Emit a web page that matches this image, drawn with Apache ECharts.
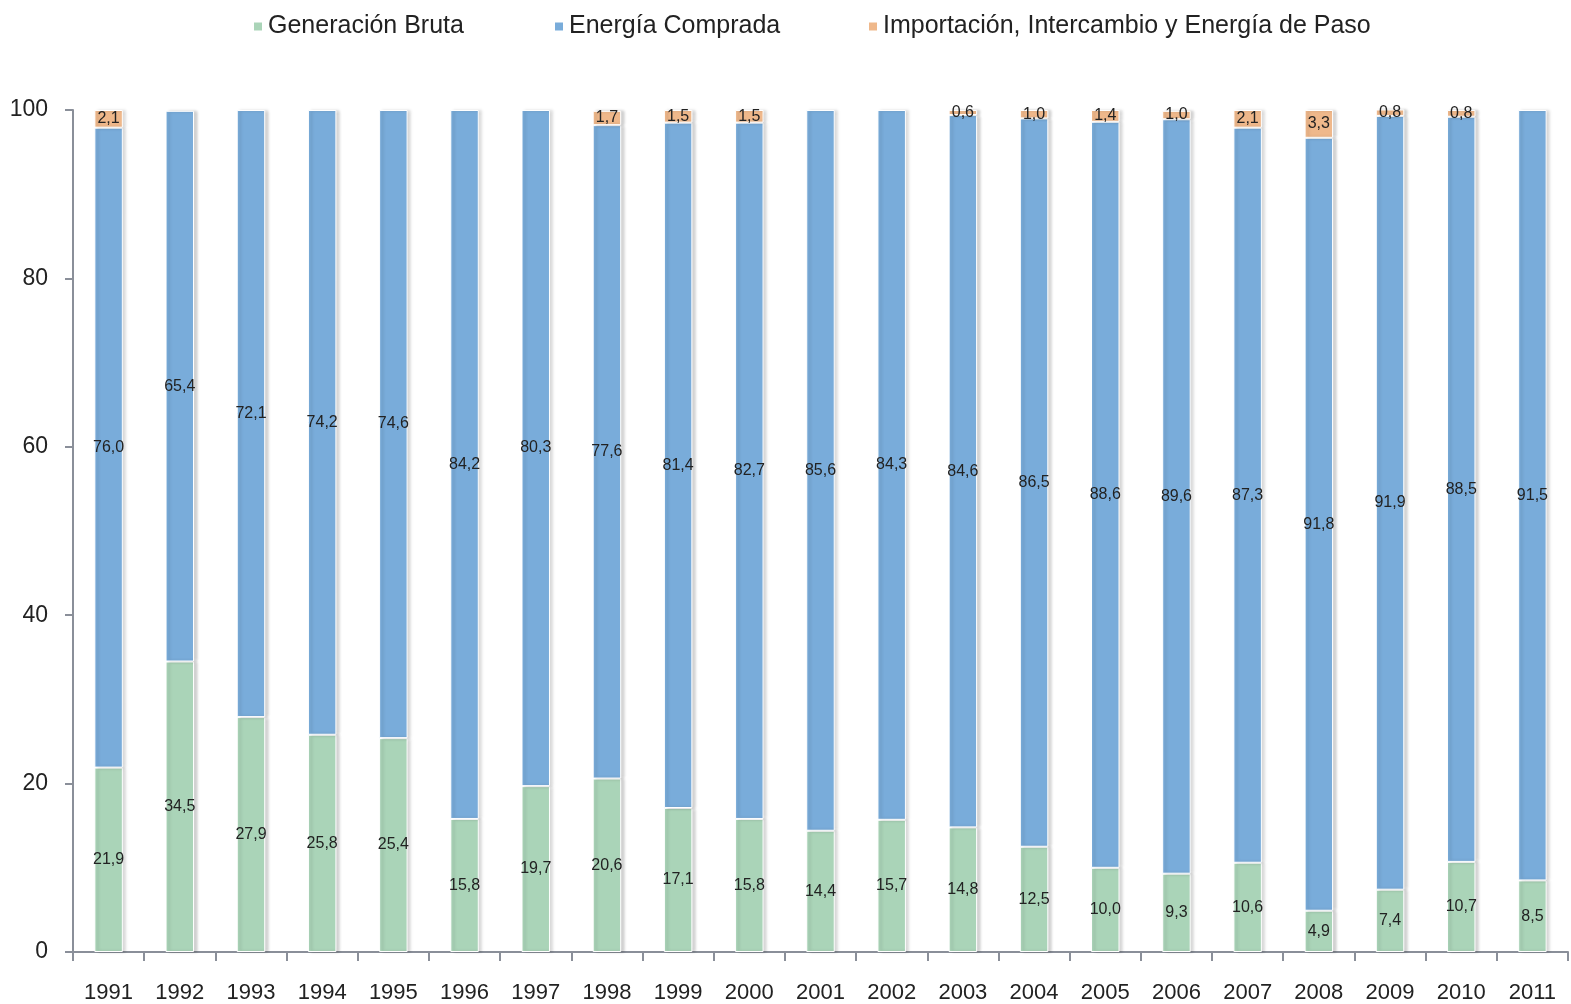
<!DOCTYPE html>
<html><head><meta charset="utf-8">
<script src="https://cdn.jsdelivr.net/npm/echarts@6/dist/echarts.min.js"></script>
<style>html,body{margin:0;padding:0;background:#fff}#c{width:1571px;height:1004px}</style>
</head><body><div id="c"></div>
<script>
const years = ['1991','1992','1993','1994','1995','1996','1997','1998','1999','2000','2001','2002','2003','2004','2005','2006','2007','2008','2009','2010','2011'];
const generacion = [21.9,34.5,27.9,25.8,25.4,15.8,19.7,20.6,17.1,15.8,14.4,15.7,14.8,12.5,10.0,9.3,10.6,4.9,7.4,10.7,8.5];
const comprada = [76.0,65.4,72.1,74.2,74.6,84.2,80.3,77.6,81.4,82.7,85.6,84.3,84.6,86.5,88.6,89.6,87.3,91.8,91.9,88.5,91.5];
const importacion = [2.1,null,null,null,null,null,null,1.7,1.5,1.5,null,null,0.6,1.0,1.4,1.0,2.1,3.3,0.8,0.8,null];
const seriesNames = ['Generación Bruta','Energía Comprada','Importación, Intercambio y Energía de Paso'];
const yTicks = [0,20,40,60,80,100];

const fmt = p => (p.value == null ? '' : p.value.toFixed(1).replace('.', ','));
const font = '"Liberation Sans", Arial, sans-serif';
const baseItem = {borderColor:'#fff', borderWidth:1, shadowColor:'rgba(0,0,0,0.18)', shadowOffsetX:3, shadowOffsetY:0, shadowBlur:3};
const lbl = {show:true, position:'inside', formatter:fmt, color:'#222', fontSize:16, fontFamily:font};
function mk(name, data, color){
  return {name, type:'bar', stack:'t', data, barWidth:'40%',
    itemStyle:Object.assign({color}, baseItem), label:lbl, emphasis:{disabled:true}};
}
const legendLefts = [247, 548, 862];
const chart = echarts.init(document.getElementById('c'), null, {renderer:'canvas'});
chart.setOption({
  animation:false,
  legend: seriesNames.map((n, i) => ({top:9, left:legendLefts[i], itemWidth:10, itemHeight:10, icon:'rect',
    textStyle:{fontSize:25, fontFamily:font, color:'#222'}, data:[n]})),
  grid:{left:73, right:3, top:110, bottom:52, containLabel:false},
  xAxis:{type:'category', data:years,
    axisLine:{lineStyle:{color:'#8a8f99', width:2}},
    axisTick:{show:true, length:9, lineStyle:{color:'#8a8f99', width:2}},
    axisLabel:{fontSize:22, fontFamily:font, color:'#222', margin:30, interval:0}},
  yAxis:{type:'value', min:0, max:100, interval:20,
    splitLine:{show:false},
    axisLine:{show:true, lineStyle:{color:'#8a8f99', width:2}},
    axisTick:{show:true, length:8, lineStyle:{color:'#8a8f99', width:2}},
    axisLabel:{fontSize:23, fontFamily:font, color:'#222', margin:25,
      formatter:v => yTicks.includes(v) ? String(v) : ''}},
  series:[
    mk(seriesNames[0], generacion, '#aad4b8'),
    mk(seriesNames[1], comprada, '#79acda'),
    mk(seriesNames[2], importacion, '#efb88b')
  ]
});
</script></body></html>
